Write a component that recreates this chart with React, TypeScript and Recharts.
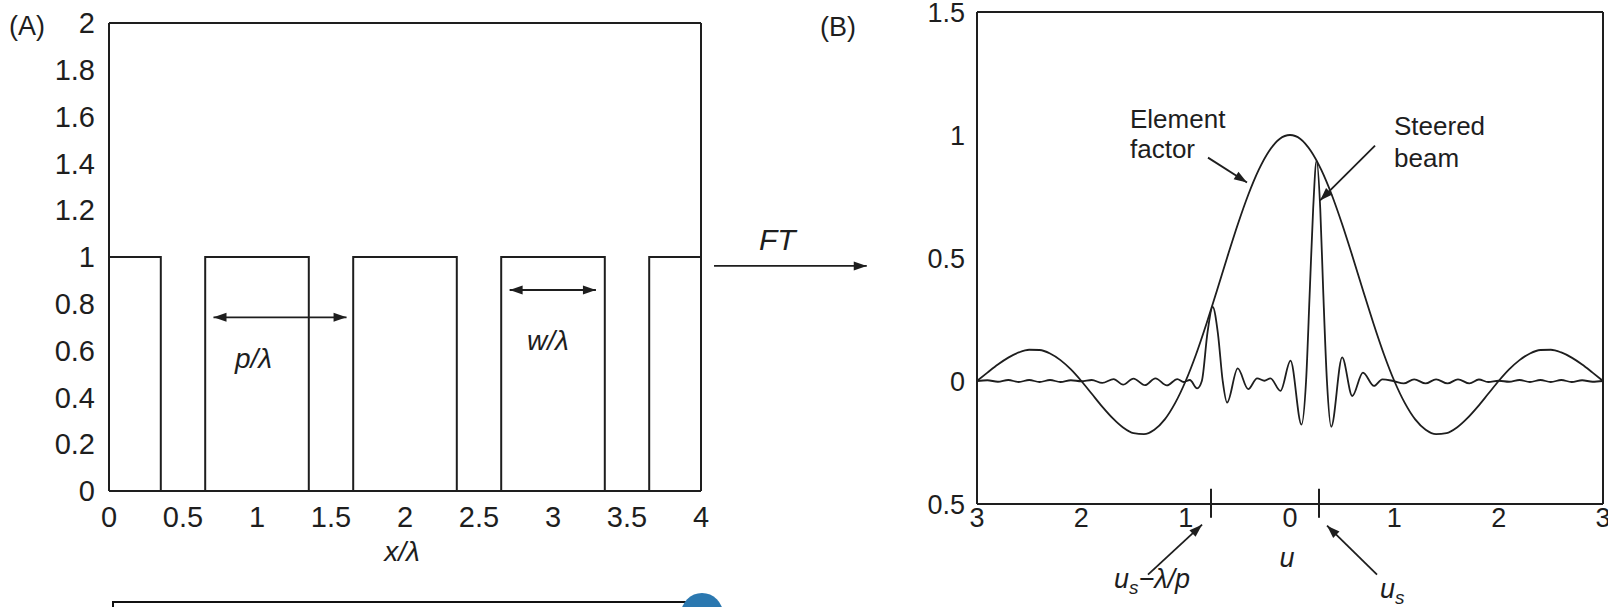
import React from "react";
import { LineChart, Line, XAxis, YAxis, ReferenceLine } from "recharts";

const W = 1608;
const H = 607;
const INK = "#1e1e1e";
const FONT = '"Liberation Sans", Arial, Helvetica, sans-serif';

// ── (A) aperture: elements of width w on a pitch p ─────────────────────────
const apertureX = [0, 0.35, 0.35, 0.65, 0.65, 1.35, 1.35, 1.65, 1.65, 2.35, 2.35, 2.65, 2.65, 3.35, 3.35, 3.65, 3.65, 4];
const apertureY = [1, 1, 0, 0, 1, 1, 0, 0, 1, 1, 0, 0, 1, 1, 0, 0, 1, 1];
const xTicksA = [0, 0.5, 1, 1.5, 2, 2.5, 3, 3.5, 4];
const yTicksA = [0, 0.2, 0.4, 0.6, 0.8, 1, 1.2, 1.4, 1.6, 1.8, 2];

// ── (B) far field: element factor and steered beam ─────────────────────────
const efU = [
  -3, -2.9, -2.8, -2.7, -2.6, -2.5, -2.4, -2.3, -2.2, -2.1, -2, -1.9, -1.8, -1.7, -1.6, -1.5, -1.4, -1.3, -1.2, -1.1,
  -1, -0.9, -0.8, -0.7, -0.6, -0.5, -0.4, -0.3, -0.2, -0.1, 0, 0.1, 0.2, 0.3, 0.4, 0.5, 0.6, 0.7, 0.8, 0.9,
  1, 1.1, 1.2, 1.3, 1.4, 1.5, 1.6, 1.7, 1.8, 1.9, 2, 2.1, 2.2, 2.3, 2.4, 2.5, 2.6, 2.7, 2.8, 2.9, 3,
];
const efValue = [
  0, 0.034, 0.067, 0.095, 0.116, 0.127, 0.126, 0.112, 0.085, 0.047, 0, -0.052, -0.104, -0.151, -0.189, -0.212, -0.216, -0.198, -0.156, -0.089,
  0, 0.109, 0.234, 0.368, 0.505, 0.637, 0.757, 0.858, 0.935, 0.984, 1, 0.984, 0.935, 0.858, 0.757, 0.637, 0.505, 0.368, 0.234, 0.109,
  0, -0.089, -0.156, -0.198, -0.216, -0.212, -0.189, -0.151, -0.104, -0.052, 0, 0.047, 0.085, 0.112, 0.126, 0.127, 0.116, 0.095, 0.067, 0.034, 0,
];
const beamU = [
  -3, -2.9, -2.8, -2.7, -2.6, -2.5, -2.4, -2.3, -2.2, -2.1, -2, -1.9, -1.8, -1.69, -1.6, -1.5, -1.39, -1.29, -1.18, -1.08,
  -1.02, -0.96, -0.89, -0.845, -0.79, -0.741, -0.69, -0.645, -0.603, -0.501, -0.401, -0.315, -0.245, -0.187, -0.091, 0.005,
  0.11, 0.154, 0.19, 0.222, 0.255, 0.29, 0.318, 0.354, 0.395, 0.5, 0.597, 0.699, 0.805, 0.885, 0.99, 1.09, 1.19, 1.3,
  1.4, 1.51, 1.61, 1.72, 1.81, 1.9, 2, 2.1, 2.2, 2.3, 2.4, 2.5, 2.6, 2.7, 2.8, 2.9, 3,
];
const beamValue = [
  0, 0.003, -0.003, 0.004, -0.004, 0.004, -0.004, 0.004, -0.004, 0.003, -0.001, 0.004, -0.008, 0.008, -0.015, 0.01, -0.017, 0.011, -0.018, 0.008,
  -0.004, 0.004, -0.03, 0, 0.2, 0.301, 0.19, 0, -0.088, 0.051, -0.033, 0.011, 0.001, 0.011, -0.04, 0.083,
  -0.177, 0, 0.37, 0.7, 0.896, 0.7, 0.37, 0, -0.186, 0.096, -0.061, 0.034, -0.02, 0.007, 0, -0.01, 0.007, -0.01,
  0.007, -0.01, 0.007, -0.01, 0.006, -0.004, 0.001, -0.003, 0.004, -0.004, 0.004, -0.004, 0.004, -0.004, 0.003, -0.003, 0,
];
const xTicksB = [-3, -2, -1, 0, 1, 2, 3];
const yTicksB = [-0.5, 0, 0.5, 1, 1.5];
const markerU = [-0.757, 0.278]; // u_s − λ/p and u_s

const apertureData = apertureX.map((x, i) => ({ x, y: apertureY[i] }));
const efData = efU.map((u, i) => ({ u, v: efValue[i] }));
const beamData = beamU.map((u, i) => ({ u, v: beamValue[i] }));

const frame = { stroke: INK, strokeWidth: 2 };
const tickText = (size: number) => ({ fontSize: size, fill: INK, fontFamily: FONT });
const absFmt = (v: number) => String(Math.abs(v));

// line with filled arrow head(s), drawn from the reference segment end points
function arrow(both: boolean) {
  return (p: any) => {
    const { x1, y1, x2, y2 } = p;
    const head = (xa: number, ya: number, xb: number, yb: number) => {
      const len = Math.hypot(xb - xa, yb - ya) || 1;
      const ux = (xb - xa) / len;
      const uy = (yb - ya) / len;
      const bx = xb - ux * 13;
      const by = yb - uy * 13;
      return `${xb},${yb} ${bx - uy * 4.5},${by + ux * 4.5} ${bx + uy * 4.5},${by - ux * 4.5}`;
    };
    return (
      <g>
        <line x1={x1} y1={y1} x2={x2} y2={y2} stroke={INK} strokeWidth={1.8} />
        <polygon points={head(x1, y1, x2, y2)} fill={INK} />
        {both && <polygon points={head(x2, y2, x1, y1)} fill={INK} />}
      </g>
    );
  };
}

function PanelA() {
  return (
    <LineChart width={W} height={H} data={apertureData} margin={{ top: 23, right: 907, bottom: 76, left: 49 }}>
      <XAxis xAxisId="b" dataKey="x" type="number" domain={[0, 4]} allowDataOverflow ticks={xTicksA} interval={0}
        height={40} tickSize={0} tickMargin={15} tickLine={false} axisLine={frame} tick={tickText(29)} />
      <XAxis xAxisId="bi" dataKey="x" type="number" domain={[0, 4]} allowDataOverflow ticks={xTicksA} interval={0}
        mirror tick={false} axisLine={false} tickSize={6} tickLine={frame} />
      <XAxis xAxisId="t" orientation="top" dataKey="x" type="number" domain={[0, 4]} allowDataOverflow ticks={xTicksA} interval={0}
        mirror tick={false} axisLine={frame} tickSize={6} tickLine={frame} />
      <YAxis yAxisId="l" type="number" domain={[0, 2]} allowDataOverflow ticks={yTicksA} interval={0}
        width={60} tickSize={0} tickMargin={14} tickLine={false} axisLine={frame} tick={tickText(29)} />
      <YAxis yAxisId="li" type="number" domain={[0, 2]} allowDataOverflow ticks={yTicksA} interval={0}
        mirror tick={false} axisLine={false} tickSize={6} tickLine={frame} />
      <YAxis yAxisId="r" orientation="right" type="number" domain={[0, 2]} allowDataOverflow ticks={yTicksA} interval={0}
        mirror tick={false} axisLine={frame} tickSize={6} tickLine={frame} />
      <Line xAxisId="b" yAxisId="l" dataKey="y" type="linear" stroke={INK} strokeWidth={2} dot={false} isAnimationActive={false} />
      <ReferenceLine xAxisId="b" yAxisId="l" ifOverflow="visible" segment={[{ x: 0.706, y: 0.742 }, { x: 1.605, y: 0.742 }]} shape={arrow(true)} />
      <ReferenceLine xAxisId="b" yAxisId="l" ifOverflow="visible" segment={[{ x: 2.707, y: 0.859 }, { x: 3.29, y: 0.859 }]} shape={arrow(true)} />
      <ReferenceLine xAxisId="b" yAxisId="l" ifOverflow="visible" segment={[{ x: 4.088, y: 0.962 }, { x: 5.12, y: 0.962 }]} shape={arrow(false)} />
    </LineChart>
  );
}

function PanelB() {
  return (
    <LineChart width={W} height={H} margin={{ top: 12, right: 5, bottom: 63, left: 917 }}>
      <XAxis xAxisId="b" dataKey="u" type="number" domain={[-3, 3]} allowDataOverflow ticks={xTicksB} interval={0}
        height={40} tickSize={0} tickMargin={4} tickLine={false} axisLine={frame} tick={tickText(27)} tickFormatter={absFmt} />
      <XAxis xAxisId="bi" dataKey="u" type="number" domain={[-3, 3]} allowDataOverflow ticks={xTicksB} interval={0}
        mirror tick={false} axisLine={false} tickSize={6} tickLine={frame} />
      <XAxis xAxisId="t" orientation="top" dataKey="u" type="number" domain={[-3, 3]} allowDataOverflow ticks={xTicksB} interval={0}
        mirror tick={false} axisLine={frame} tickSize={6} tickLine={frame} />
      <YAxis yAxisId="l" type="number" domain={[-0.5, 1.5]} allowDataOverflow ticks={yTicksB} interval={0}
        width={60} tickSize={0} tickMargin={12} tickLine={false} axisLine={frame} tick={tickText(27)} tickFormatter={absFmt} />
      <YAxis yAxisId="li" type="number" domain={[-0.5, 1.5]} allowDataOverflow ticks={yTicksB} interval={0}
        mirror tick={false} axisLine={false} tickSize={6} tickLine={frame} />
      <YAxis yAxisId="r" orientation="right" type="number" domain={[-0.5, 1.5]} allowDataOverflow ticks={yTicksB} interval={0}
        mirror tick={false} axisLine={frame} tickSize={6} tickLine={frame} />
      <Line xAxisId="b" yAxisId="l" data={efData} dataKey="v" type="monotone" stroke={INK} strokeWidth={1.8} dot={false} isAnimationActive={false} />
      <Line xAxisId="b" yAxisId="l" data={beamData} dataKey="v" type="monotone" stroke={INK} strokeWidth={1.8} dot={false} isAnimationActive={false} />
      {markerU.map((u) => (
        <ReferenceLine key={u} xAxisId="b" yAxisId="l" ifOverflow="visible" stroke={INK} strokeWidth={2}
          segment={[{ x: u, y: -0.438 }, { x: u, y: -0.556 }]} />
      ))}
      <ReferenceLine xAxisId="b" yAxisId="l" ifOverflow="visible" segment={[{ x: -0.786, y: 0.908 }, { x: -0.412, y: 0.807 }]} shape={arrow(false)} />
      <ReferenceLine xAxisId="b" yAxisId="l" ifOverflow="visible" segment={[{ x: 0.815, y: 0.957 }, { x: 0.288, y: 0.734 }]} shape={arrow(false)} />
      <ReferenceLine xAxisId="b" yAxisId="l" ifOverflow="visible" segment={[{ x: -1.361, y: -0.787 }, { x: -0.843, y: -0.584 }]} shape={arrow(false)} />
      <ReferenceLine xAxisId="b" yAxisId="l" ifOverflow="visible" segment={[{ x: 0.834, y: -0.787 }, { x: 0.355, y: -0.588 }]} shape={arrow(false)} />
    </LineChart>
  );
}

export default function App() {
  const layer: React.CSSProperties = { position: "absolute", left: 0, top: 0 };
  return (
    <div style={{ position: "absolute", left: 0, top: 0, width: W, height: H, background: "#fff", overflow: "hidden" }}>
      <div style={layer}><PanelA /></div>
      <div style={layer}><PanelB /></div>
      <svg width={W} height={H} style={{ ...layer, pointerEvents: "none" }} fontFamily={FONT} fill={INK}>
        <text x={9} y={35} fontSize={27}>(A)</text>
        <text x={820} y={36} fontSize={27}>(B)</text>
        <text x={759} y={250} fontSize={30} fontStyle="italic">FT</text>
        <text x={402} y={561} fontSize={28} fontStyle="italic" textAnchor="middle">x/λ</text>
        <text x={235} y={368} fontSize={28} fontStyle="italic">p/λ</text>
        <text x={527} y={350} fontSize={28} fontStyle="italic">w/λ</text>
        <text x={1130} y={128} fontSize={26}>Element</text>
        <text x={1130} y={158} fontSize={26}>factor</text>
        <text x={1394} y={135} fontSize={26}>Steered</text>
        <text x={1394} y={167} fontSize={26}>beam</text>
        <text x={1287} y={567} fontSize={27} fontStyle="italic" textAnchor="middle">u</text>
        <text x={1114} y={588} fontSize={27} fontStyle="italic">
          u<tspan dy={6} fontSize={19}>s</tspan><tspan dy={-6}>−λ/p</tspan>
        </text>
        <text x={1380} y={598} fontSize={27} fontStyle="italic">
          u<tspan dy={6} fontSize={19}>s</tspan>
        </text>
      </svg>
      <div style={{ position: "absolute", left: 112, top: 601, width: 578, height: 20, border: "2px solid #111", borderRight: "none" }} />
      <div style={{ position: "absolute", left: 681, top: 593, width: 42, height: 42, borderRadius: "50%", background: "#2b78b0" }} />
    </div>
  );
}
